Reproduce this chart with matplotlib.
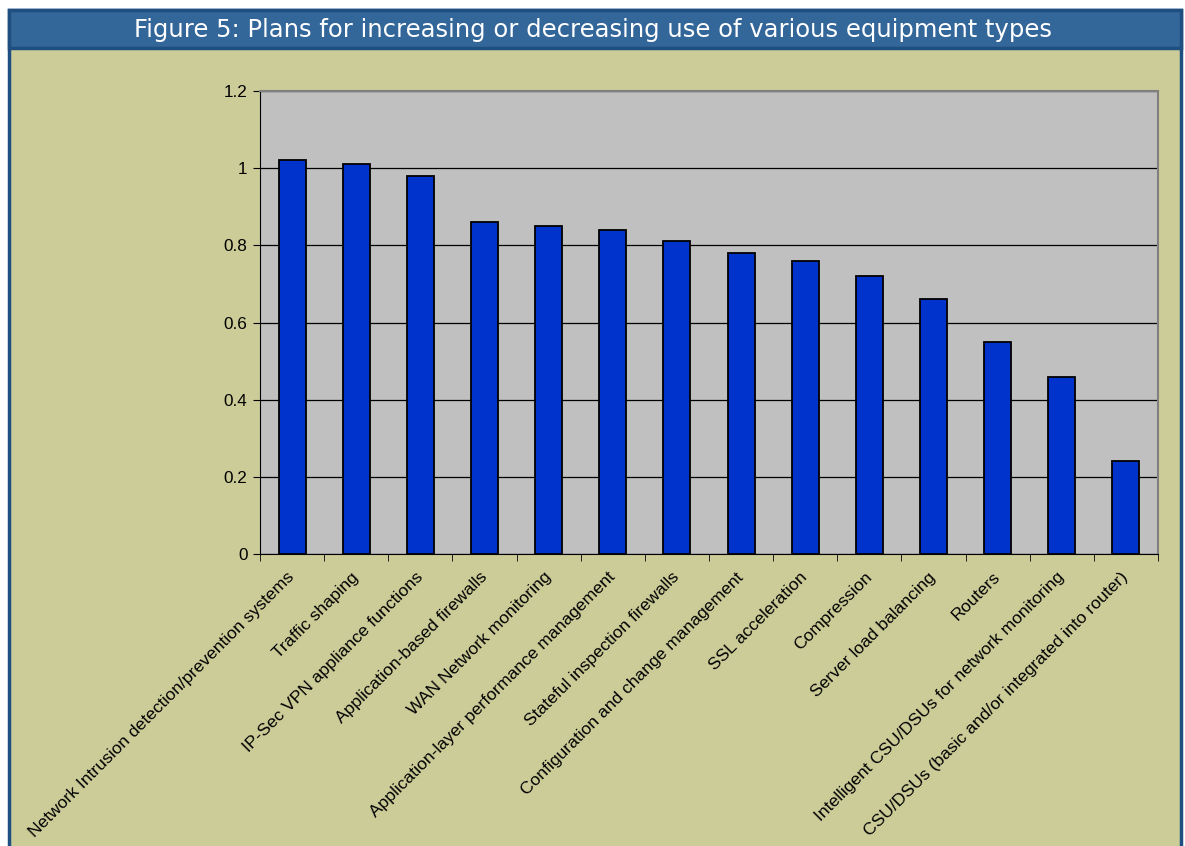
import matplotlib.pyplot as plt
from matplotlib.patches import Rectangle
from matplotlib.ticker import FixedLocator

categories = [
    "Network Intrusion detection/prevention systems",
    "Traffic shaping",
    "IP-Sec VPN appliance functions",
    "Application-based firewalls",
    "WAN Network monitoring",
    "Application-layer performance management",
    "Stateful inspection firewalls",
    "Configuration and change management",
    "SSL acceleration",
    "Compression",
    "Server load balancing",
    "Routers",
    "Intelligent CSU/DSUs for network monitoring",
    "CSU/DSUs (basic and/or integrated into router)",
]
values = [1.02, 1.01, 0.98, 0.86, 0.85, 0.84, 0.81, 0.78, 0.76, 0.72, 0.66, 0.55, 0.46, 0.24]
y_ticks = [0, 0.2, 0.4, 0.6, 0.8, 1.0, 1.2]
y_labels = ["0", "0.2", "0.4", "0.6", "0.8", "1", "1.2"]
title = "Figure 5: Plans for increasing or decreasing use of various equipment types"

W, H = 1185, 846
fig = plt.figure(figsize=(W / 100, H / 100), dpi=100)
fig.patch.set_facecolor("white")

# frame: khaki body (runs off the bottom edge) + blue title bar
fig.patches.append(Rectangle((9 / W, -0.02), 1172 / W, 1.02 - 10 / H, transform=fig.transFigure,
                             facecolor="#CCCC99", edgecolor="#1F4E80", linewidth=2.5, zorder=-10))
fig.patches.append(Rectangle((9 / W, 1 - 48 / H), 1172 / W, 38 / H, transform=fig.transFigure,
                             facecolor="#336699", edgecolor="#1F4E80", linewidth=2.5, zorder=-9))
fig.text(0.5, 1 - 30 / H, title, ha="center", va="center", color="white",
         fontsize=17.5, family="DejaVu Sans")

ax = fig.add_axes([260 / W, 1 - 554 / H, 898 / W, 463 / H])
ax.set_facecolor("#C0C0C0")
x = list(range(len(categories)))
ax.bar(x, values, width=0.42, color="#0033CC", edgecolor="black", linewidth=1.3, zorder=3)

ax.set_xlim(-0.5, len(categories) - 0.5)
ax.set_ylim(0, 1.2)
ax.set_yticks(y_ticks)
ax.set_yticklabels(y_labels, family="Liberation Sans", fontsize=12.3)
ax.yaxis.grid(True, color="black", linewidth=0.9, zorder=1)

ax.set_xticks(x)
ax.set_xticklabels(categories, rotation=45, ha="right", va="center", rotation_mode="anchor",
                   family="Liberation Sans", fontsize=12.6)
ax.tick_params(axis="x", which="major", length=0, pad=15)
ax.xaxis.set_minor_locator(FixedLocator([i - 0.5 for i in range(len(categories) + 1)]))
ax.tick_params(axis="x", which="minor", length=5, direction="out", color="black")
ax.tick_params(axis="y", length=5, direction="out", color="black", pad=4)

for side in ["top", "right"]:
    ax.spines[side].set_color("#808080")
    ax.spines[side].set_linewidth(1.5)
ax.spines["left"].set_color("black")
ax.spines["bottom"].set_color("black")

fig.savefig("out.png", dpi=100)
